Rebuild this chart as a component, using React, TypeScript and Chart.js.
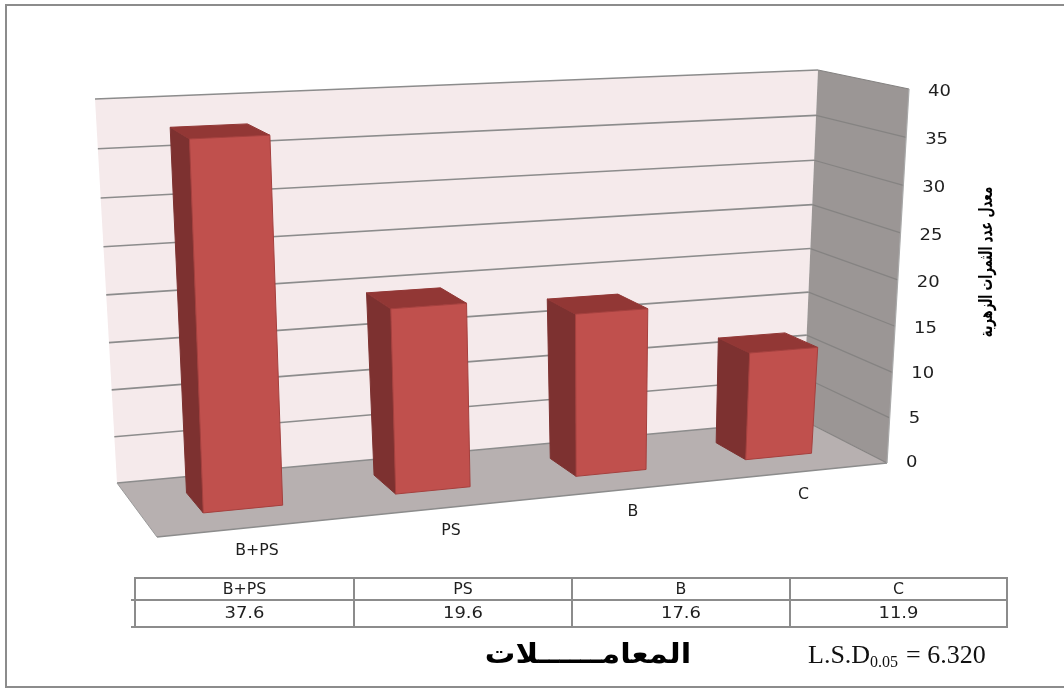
import { useEffect, useRef } from "react";
import { Chart, registerables } from "chart.js";

Chart.register(...registerables);

const categories = ["B+PS", "PS", "B", "C"];
const values = [37.6, 19.6, 17.6, 11.9];
const axisMax = 40;
const axisStep = 5;
const yAxisTitle = "معدل عدد الثمرات الزهرية";
const xAxisTitle = "المعامــــــلات";
const lsdParts = ["L.S.D", "0.05", "= 6.320"];

type Pt = [number, number];
type PlaneFn = (u: number, w: number) => Pt;

// Maps the unit square onto a quadrilateral: (0,0), (1,0), (1,1), (0,1).
function quadMapper(q: Pt[]): PlaneFn {
  const [[x0, y0], [x1, y1], [x2, y2], [x3, y3]] = q;
  const dx1 = x1 - x2, dx2 = x3 - x2, sx = x0 - x1 + x2 - x3;
  const dy1 = y1 - y2, dy2 = y3 - y2, sy = y0 - y1 + y2 - y3;
  const den = dx1 * dy2 - dx2 * dy1;
  const g = (sx * dy2 - dx2 * sy) / den;
  const h = (dx1 * sy - sx * dy1) / den;
  const a = x1 - x0 + g * x1, b = x3 - x0 + h * x3;
  const d = y1 - y0 + g * y1, e = y3 - y0 + h * y3;
  return (u, w) => {
    const n = g * u + h * w + 1;
    return [(a * u + b * w + x0) / n, (d * u + e * w + y0) / n];
  };
}

const barFront = 0.32;
const barBack = 0.7;

// The plot box: floor and ceiling planes, front edge first.
const floorPlane = quadMapper([[157, 537], [887, 463], [803, 420], [117, 483]]);
const wallCeiling = quadMapper([[140, 121], [909, 89], [818, 70], [95, 99]]);
// Bars stand a little straighter than the walls, so their upper plane is nudged.
const barCeiling: PlaneFn = (u, z) => {
  const [x, y] = wallCeiling(u, z);
  const t = (barBack - z) / (barBack - barFront);
  const edge = Math.min(1, u / 0.3);
  return [x + 4 + 4 * t * edge, y + t * (6 - 4 * u) * (edge < 1 ? 0.5 : 1)];
};
const heightBias = 0.96;

// u runs along the categories, v up the value axis, z from front to back.
function project(u: number, v: number, z: number, ceiling: PlaneFn = wallCeiling): Pt {
  const [fx, fy] = floorPlane(u, z);
  const [cx, cy] = ceiling(u, z);
  const a = 1 - v;
  const b = heightBias * v;
  return [(fx * a + cx * b) / (a + b), (fy * a + cy * b) / (a + b)];
}

function fillPoly(ctx: CanvasRenderingContext2D, pts: Pt[], fill: string, stroke?: string) {
  ctx.beginPath();
  pts.forEach(([x, y], i) => (i ? ctx.lineTo(x, y) : ctx.moveTo(x, y)));
  ctx.closePath();
  ctx.fillStyle = fill;
  ctx.fill();
  if (stroke) {
    ctx.strokeStyle = stroke;
    ctx.lineWidth = 1;
    ctx.stroke();
  }
}

function line(ctx: CanvasRenderingContext2D, a: Pt, b: Pt, color: string, width: number) {
  ctx.beginPath();
  ctx.moveTo(a[0], a[1]);
  ctx.lineTo(b[0], b[1]);
  ctx.strokeStyle = color;
  ctx.lineWidth = width;
  ctx.stroke();
}

// Draws one string with its width stretched horizontally.
function stretchedText(
  ctx: CanvasRenderingContext2D,
  text: string,
  cx: number,
  cy: number,
  font: string,
  scaleX: number,
  align: CanvasTextAlign = "center",
  rtl = false,
  color = "#1f1f1f",
) {
  ctx.save();
  ctx.font = font;
  ctx.fillStyle = color;
  ctx.textAlign = align;
  ctx.textBaseline = "middle";
  ctx.direction = rtl ? "rtl" : "ltr";
  ctx.translate(cx, cy);
  ctx.scale(scaleX, 1);
  ctx.fillText(text, 0, 0);
  ctx.restore();
}

const labelFont = '15px "DejaVu Sans"';
const numberStretch = 1.2;
const nameStretch = 1.05;

const box3dPlugin = {
  id: "box3d",
  beforeDatasetsDraw(chart: any) {
    const ctx: CanvasRenderingContext2D = chart.ctx;
    const area = chart.chartArea;
    const yScale = chart.scales.y;
    const toV = (value: number) => (area.bottom - yScale.getPixelForValue(value)) / (area.bottom - area.top);

    // Page frame
    line(ctx, [6, 5], [1064, 5], "#8c8c8c", 2);
    line(ctx, [6, 4], [6, 688], "#8c8c8c", 2);
    line(ctx, [6, 687], [1064, 687], "#8c8c8c", 2);

    // Walls and floor
    fillPoly(ctx, [project(0, 0, 1), project(1, 0, 1), project(1, 1, 1), project(0, 1, 1)], "#f5eaeb");
    fillPoly(ctx, [project(1, 0, 1), project(1, 0, 0), project(1, 1, 0), project(1, 1, 1)], "#9b9695");
    fillPoly(ctx, [project(0, 0, 0), project(1, 0, 0), project(1, 0, 1), project(0, 0, 1)], "#b7b0b0");

    // Gridlines run along the back wall and round the side wall
    yScale.ticks.forEach((tick: any) => {
      const v = toV(tick.value);
      line(ctx, project(0, v, 1), project(1, v, 1), "#8c8c8c", 1.6);
      line(ctx, project(1, v, 1), project(1, v, 0), "#858382", 1.2);
      const [ex, ey] = project(1, v, 0);
      stretchedText(ctx, String(tick.value), ex + 19, ey + Math.min(3, 8 * v), labelFont, numberStretch, "left");
    });
    line(ctx, project(0, 0, 0), project(1, 0, 0), "#8c8c8c", 1.6);
    line(ctx, project(0, 0, 0), project(0, 0, 1), "#9a9a9a", 1);
    line(ctx, project(1, 0, 0), project(1, 1, 0), "#a9a9a9", 1.2);

    // Bars, read from the bar elements laid out by the scales
    const bars = chart.getDatasetMeta(0).data;
    const span = area.right - area.left;
    bars.forEach((bar: any, i: number) => {
      const u0 = (bar.x - bar.width / 2 - area.left) / span;
      const u1 = (bar.x + bar.width / 2 - area.left) / span;
      const v = toV(values[i]);
      const p = (u: number, h: number, z: number) => project(u, h, z, barCeiling);
      fillPoly(ctx, [p(u0, 0, barBack), p(u0, 0, barFront), p(u0, v, barFront), p(u0, v, barBack)], "#7d3130", "#7d3130");
      fillPoly(ctx, [p(u0, v, barFront), p(u1, v, barFront), p(u1, v, barBack), p(u0, v, barBack)], "#923735", "#923735");
      fillPoly(ctx, [p(u0, 0, barFront), p(u1, 0, barFront), p(u1, v, barFront), p(u0, v, barFront)], "#c0504d", "#a5403e");
      const [lx, ly] = project((u0 + u1) / 2, 0, 0);
      stretchedText(ctx, categories[i], lx - 2, ly + 24, labelFont, nameStretch);
    });

    // Data table under the plot
    const columns = [135, 354, 572, 790, 1007];
    const rows = [578, 600, 627];
    const tableColor = "#8c8c8c";
    rows.forEach((y, i) => line(ctx, [i ? 131 : 134, y], [1008, y], tableColor, 2));
    columns.forEach((x) => line(ctx, [x, 577], [x, 628], tableColor, 2));
    categories.forEach((name, i) => {
      const cx = (columns[i] + columns[i + 1]) / 2;
      stretchedText(ctx, name, cx, 590, labelFont, nameStretch);
      stretchedText(ctx, values[i].toFixed(1), cx, 614, labelFont, numberStretch);
    });

    // Axis titles and the significance note
    ctx.save();
    ctx.translate(987, 262);
    ctx.rotate(-Math.PI / 2);
    stretchedText(ctx, yAxisTitle, 0, 0, 'bold 18px "DejaVu Sans"', 0.65, "center", true, "#000000");
    ctx.restore();
    stretchedText(ctx, xAxisTitle, 588, 656, 'bold 28px "DejaVu Sans"', 1.09, "center", true, "#000000");

    ctx.save();
    ctx.fillStyle = "#111111";
    ctx.textAlign = "left";
    ctx.textBaseline = "alphabetic";
    ctx.font = '26px "Liberation Serif"';
    ctx.fillText(lsdParts[0], 808, 663);
    const lsdEnd = 808 + ctx.measureText(lsdParts[0]).width;
    ctx.fillText(lsdParts[2], 906, 663);
    ctx.font = '16px "Liberation Serif"';
    ctx.fillText(lsdParts[1], lsdEnd, 667);
    ctx.restore();

    return false;
  },
};

export default function App() {
  const ref = useRef<HTMLCanvasElement | null>(null);

  useEffect(() => {
    document.body.style.margin = "0";
    const chart = new Chart(ref.current as HTMLCanvasElement, {
      type: "bar",
      data: {
        labels: categories,
        datasets: [{ data: values, barPercentage: 0.405, categoryPercentage: 1, backgroundColor: "#c0504d" }],
      },
      options: {
        animation: false,
        responsive: false,
        layout: { padding: 0 },
        plugins: { legend: { display: false }, tooltip: { enabled: false } },
        scales: {
          x: { display: false },
          y: { display: false, min: 0, max: axisMax, ticks: { stepSize: axisStep } },
        },
      },
      plugins: [box3dPlugin],
    } as any);
    return () => chart.destroy();
  }, []);

  return <canvas ref={ref} width={1064} height={688} style={{ display: "block" }} />;
}
